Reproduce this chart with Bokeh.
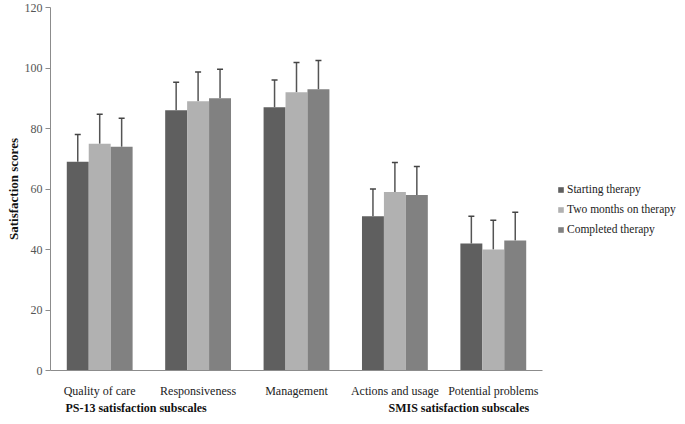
from bokeh.plotting import figure
from bokeh.models import (ColumnDataSource, Range1d, Whisker, TeeHead, Legend, LegendItem,
                          LinearAxis, FixedTicker, SingleIntervalTicker)
from bokeh.embed import file_html
from bokeh.resources import INLINE

categories = ["Quality of care", "Responsiveness", "Management", "Actions and usage", "Potential problems"]
series_names = ["Starting therapy", "Two months on therapy", "Completed therapy"]
starting = [69, 86, 87, 51, 42]
two_months = [75, 89, 92, 59, 40]
completed = [74, 90, 93, 58, 43]
starting_sd = [9, 9.3, 9, 9, 9]
two_months_sd = [9.7, 9.7, 9.8, 9.8, 9.7]
completed_sd = [9.4, 9.6, 9.5, 9.4, 9.3]
group_titles = ["PS-13 satisfaction subscales", "SMIS satisfaction subscales"]
group_title_pos = [0.87, 4.15]

colors = ["#5f5f5f", "#b1b1b1", "#818181"]
SERIF = "Liberation Serif"

W, H = 685, 424
LEFT, RIGHT, TOP, BOTTOM = 50, 2, 7, 54
AXIS_PX = 492  # pixel length of the category axis
n = len(categories)
x_end = n * (W - LEFT - RIGHT) / AXIS_PX

bw = 0.223
offsets = [-bw, 0, bw]
centers = [i + 0.5 for i in range(n)]
series = [starting, two_months, completed]
sds = [starting_sd, two_months_sd, completed_sd]

data = {}
for k in range(3):
    data["x%d" % k] = [c + offsets[k] for c in centers]
    data["s%d" % k] = series[k]
    data["u%d" % k] = [v + e for v, e in zip(series[k], sds[k])]
src = ColumnDataSource(data)

p = figure(x_range=Range1d(0, x_end), y_range=Range1d(0, 120),
           width=W, height=H, output_backend="svg", toolbar_location=None,
           min_border_left=LEFT, min_border_right=RIGHT, min_border_top=TOP, min_border_bottom=BOTTOM)
p.outline_line_color = None
p.xgrid.grid_line_color = None
p.ygrid.grid_line_color = None

renderers = []
for k in range(3):
    r = p.vbar(x="x%d" % k, top="s%d" % k, width=bw, source=src,
               fill_color=colors[k], line_color=None)
    renderers.append(r)
    w = Whisker(base="x%d" % k, lower="s%d" % k, upper="u%d" % k, source=src,
                line_color="#555555", line_width=1.5, lower_head=None,
                upper_head=TeeHead(size=6, line_color="#444444", line_width=1.5))
    p.add_layout(w)

# y axis
p.yaxis.ticker = SingleIntervalTicker(interval=20)
p.yaxis.minor_tick_line_color = None
p.yaxis.major_tick_out = 5
p.yaxis.major_tick_in = 0
p.yaxis.major_label_standoff = 3
p.yaxis.axis_line_color = "#8c8c8c"
p.yaxis.major_tick_line_color = "#8c8c8c"
p.yaxis.major_label_text_font = SERIF
p.yaxis.major_label_text_font_size = "12px"
p.yaxis.major_label_text_color = "#555555"
p.yaxis.axis_label = "Satisfaction scores"
p.yaxis.axis_label_text_font = SERIF
p.yaxis.axis_label_text_font_style = "bold"
p.yaxis.axis_label_text_font_size = "13px"
p.yaxis.axis_label_text_color = "#111111"
p.yaxis.axis_label_standoff = 1

# x axis (categories)
xa = p.xaxis[0]
xa.ticker = FixedTicker(ticks=centers)
xa.major_label_overrides = {c: name for c, name in zip(centers, categories)}
xa.bounds = (0, n)
xa.axis_line_color = "#8c8c8c"
xa.major_tick_line_color = None
xa.minor_tick_line_color = None
xa.major_tick_out = 0
xa.major_tick_in = 0
xa.major_label_standoff = 13
xa.major_label_text_font = SERIF
xa.major_label_text_font_size = "12px"
xa.major_label_text_color = "#222222"

# second axis below for the subscale group titles
ga = LinearAxis(ticker=FixedTicker(ticks=group_title_pos),
                major_label_overrides={pos: t for pos, t in zip(group_title_pos, group_titles)})
ga.axis_line_color = None
ga.major_tick_line_color = None
ga.minor_tick_line_color = None
ga.major_tick_out = 0
ga.major_tick_in = 0
ga.major_label_standoff = 0
ga.major_label_text_font = SERIF
ga.major_label_text_font_style = "bold"
ga.major_label_text_font_size = "12px"
ga.major_label_text_color = "#111111"
p.add_layout(ga, "below")

legend = Legend(items=[LegendItem(label=series_names[k], renderers=[renderers[k]]) for k in range(3)],
                location=(507, 134), orientation="vertical")
legend.padding = 0
legend.margin = 0
legend.border_line_color = None
legend.background_fill_alpha = 0
legend.glyph_width = 7
legend.glyph_height = 7
legend.label_height = 14
legend.spacing = 6
legend.label_standoff = 3
legend.label_text_font = SERIF
legend.label_text_font_size = "11.5px"
legend.label_text_color = "#222222"
p.add_layout(legend, "center")

open("out.html", "w").write(file_html(p, INLINE))
